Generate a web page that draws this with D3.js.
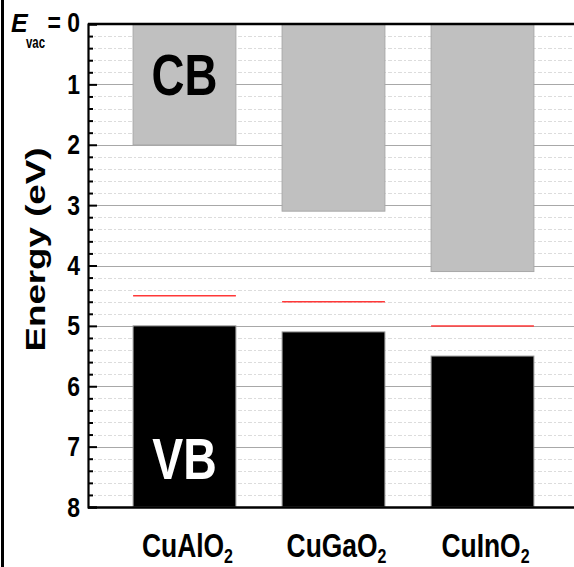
<!DOCTYPE html>
<html><head><meta charset="utf-8">
<script src="https://cdn.jsdelivr.net/npm/d3@7"></script>
<style>
html,body{margin:0;padding:0;background:#fff;overflow:hidden}
svg{display:block}
</style></head>
<body>
<svg id="chart" width="574" height="567"></svg>
<script>
const categories = ["CuAlO2", "CuGaO2", "CuInO2"];
const cbBottom = [2.0, 3.1, 4.1];   // conduction band minimum (eV below vacuum)
const vbTop = [5.0, 5.1, 5.5];      // valence band maximum
const fermi = [4.5, 4.6, 5.0];      // Fermi level (red line)
const majorTicks = [0, 1, 2, 3, 4, 5, 6, 7, 8];
const minorTicks = [0.2, 0.4, 0.6, 0.8, 1.2, 1.4, 1.6, 1.8, 2.2, 2.4, 2.6, 2.8, 3.2, 3.4, 3.6, 3.8,
                    4.2, 4.4, 4.6, 4.8, 5.2, 5.4, 5.6, 5.8, 6.2, 6.4, 6.6, 6.8, 7.2, 7.4, 7.6, 7.8];
const yDomain = [0, 8];
const yTitle = "Energy (eV)";

const svg = d3.select("#chart");
const W = 574, H = 567;
const L = 88, R = 574, T = 24, B = 507;

const y = d3.scaleLinear().domain(yDomain).range([T, B]);
const x = d3.scaleBand().domain(categories).range([110, 557]).paddingInner(0.31).paddingOuter(0.155);

const sans = "'Liberation Sans',Arial,sans-serif";

// left page border
svg.append("rect").attr("x", 1).attr("y", 0).attr("width", 3).attr("height", H).attr("fill", "#000");

// minor grid
svg.append("g").selectAll("line").data(minorTicks).join("line")
  .attr("x1", L).attr("x2", R).attr("y1", d => Math.round(y(d)) + 0.5).attr("y2", d => Math.round(y(d)) + 0.5)
  .attr("stroke", "#dcdcdc").attr("stroke-width", 1).attr("stroke-dasharray", "4,2,2,2");
// major grid
svg.append("g").selectAll("line").data(majorTicks.slice(1, -1)).join("line")
  .attr("x1", L).attr("x2", R).attr("y1", d => Math.round(y(d)) + 0.5).attr("y2", d => Math.round(y(d)) + 0.5)
  .attr("stroke", "#a8a8a8").attr("stroke-width", 1);

// conduction bands
svg.append("g").selectAll("rect").data(categories).join("rect")
  .attr("x", d => x(d)).attr("width", x.bandwidth())
  .attr("y", y(0)).attr("height", (d, i) => y(cbBottom[i]) - y(0))
  .attr("fill", "#c0c0c0").attr("stroke", "#a8a8a8").attr("stroke-width", 1);
// valence bands
svg.append("g").selectAll("rect").data(categories).join("rect")
  .attr("x", d => x(d)).attr("width", x.bandwidth())
  .attr("y", (d, i) => y(vbTop[i])).attr("height", (d, i) => y(8) - y(vbTop[i]))
  .attr("fill", "#000").attr("stroke", "#9a9a9a").attr("stroke-width", 1);
// Fermi levels
svg.append("g").selectAll("line").data(categories).join("line")
  .attr("x1", d => x(d)).attr("x2", d => x(d) + x.bandwidth())
  .attr("y1", (d, i) => y(fermi[i])).attr("y2", (d, i) => y(fermi[i]))
  .attr("stroke", "#ff3838").attr("stroke-width", 1.5);

// condensed text helper
function ctext(parent, cx, cy, sx, size, fill, str, anchor) {
  const g = parent.append("g").attr("transform", `translate(${cx},${cy}) scale(${sx},1)`);
  return g.append("text").attr("x", 0).attr("y", 0).attr("text-anchor", anchor || "middle")
    .attr("font-family", sans).attr("font-weight", "bold").attr("font-size", size).attr("fill", fill).text(str);
}

// CB / VB labels
const c0 = x(categories[0]) + x.bandwidth() / 2;
ctext(svg, c0, y(1.17), 0.8, 57, "#000", "CB");
ctext(svg, c0, y(7.53), 0.8, 58, "#fff", "VB");

// frame lines
svg.append("line").attr("x1", L).attr("x2", R).attr("y1", T).attr("y2", T).attr("stroke", "#000").attr("stroke-width", 2.5);
svg.append("line").attr("x1", L).attr("x2", R).attr("y1", B + 0.5).attr("y2", B + 0.5).attr("stroke", "#000").attr("stroke-width", 2.5);

// y axis (ticks and domain)
const yAxis = d3.axisLeft(y).tickValues(majorTicks).tickSize(-9).tickFormat("");
const ga = svg.append("g").attr("transform", `translate(${L},0)`).call(yAxis);
ga.select(".domain").attr("stroke", "#000").attr("stroke-width", 2.2);
ga.selectAll(".tick line").attr("stroke", "#000").attr("stroke-width", 2);
const gm = svg.append("g").attr("transform", `translate(${L},0)`)
  .call(d3.axisLeft(y).tickValues(minorTicks).tickSize(-5).tickFormat(""));
gm.select(".domain").remove();
gm.selectAll(".tick line").attr("stroke", "#000").attr("stroke-width", 2);

// tick labels (condensed)
majorTicks.filter(d => d !== 0).forEach(d => {
  ctext(svg, L - 8, y(d) + 9.5, 0.85, 27, "#000", String(d), "end");
});

// E_vac = 0 label
const ev = svg.append("g").attr("transform", `translate(0,${T + 8})`);
const evt = ev.append("text").attr("font-family", sans).attr("font-weight", "bold").attr("font-size", 27).attr("fill", "#000");
evt.append("tspan").attr("x", 11).attr("font-style", "italic").attr("font-size", 25).text("E");
evt.append("tspan").attr("x", 26).attr("dy", 16).attr("font-size", 16).attr("textLength", 19).attr("lengthAdjust", "spacingAndGlyphs").text("vac");
ctext(ev, 80, 0, 0.85, 27, "#000", "= 0", "end");

// y title
svg.append("text").attr("transform", `translate(45,${(T + B) / 2 - 16}) rotate(-90)`)
  .attr("text-anchor", "middle").attr("font-family", sans).attr("font-weight", "bold").attr("font-size", 28)
  .attr("textLength", 204).attr("lengthAdjust", "spacingAndGlyphs").attr("fill", "#000").text(yTitle);

// category labels with subscripts
categories.forEach(d => {
  const m = d.match(/^(.*?)(\d+)$/);
  const t = ctext(svg, x(d) + x.bandwidth() / 2 + 3, 557, 0.8, 33, "#000", "");
  t.append("tspan").text(m[1]);
  t.append("tspan").attr("dy", 6).attr("font-size", 20).text(m[2]);
});
</script>
</body></html>
